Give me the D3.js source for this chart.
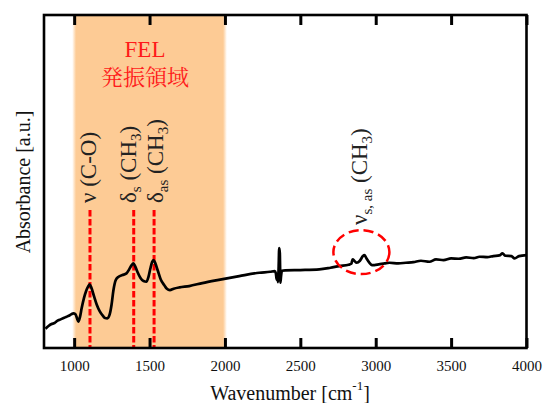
<!DOCTYPE html>
<html><head><meta charset="utf-8"><script src="https://cdn.jsdelivr.net/npm/d3@7"></script></head>
<body style="margin:0">
<script>
// IR spectrum (absorbance in arbitrary units)
const wavenumber = [
  810, 830, 850, 870, 890, 910, 930, 950, 965, 980, 995, 1008, 1020, 1028, 1038,
  1050, 1065, 1080, 1093, 1103, 1115, 1130, 1150, 1170, 1190, 1205, 1220, 1235,
  1248, 1260, 1276, 1295, 1320, 1347, 1365, 1380, 1393, 1405, 1420, 1440, 1460,
  1479, 1492, 1505, 1517, 1526, 1538, 1555, 1575, 1597, 1615, 1635, 1660, 1700,
  1763, 1850, 1950, 2095, 2228, 2300, 2330, 2338, 2343, 2348, 2352, 2356, 2360,
  2364, 2368, 2372, 2378, 2400, 2500, 2626, 2700, 2759, 2820, 2838, 2847, 2858,
  2874, 2895, 2915, 2925, 2940, 2960, 2975, 2991, 3020, 3060, 3091, 3150, 3200,
  3250, 3300, 3356, 3400, 3450, 3500, 3550, 3600, 3650, 3688, 3740, 3780, 3820,
  3841, 3860, 3900, 3921, 3950, 4000
];
const absorbance = [
  0.058, 0.066, 0.072, 0.075, 0.082, 0.086, 0.090, 0.094, 0.097, 0.101, 0.104, 0.102, 0.088, 0.079, 0.092,
  0.120, 0.150, 0.172, 0.185, 0.191, 0.180, 0.158, 0.130, 0.110, 0.097, 0.090, 0.089, 0.100,
  0.130, 0.172, 0.204, 0.214, 0.219, 0.224, 0.236, 0.248, 0.254, 0.245, 0.228, 0.210, 0.201,
  0.199, 0.212, 0.238, 0.258, 0.264, 0.255, 0.232, 0.205, 0.189, 0.178, 0.174, 0.178, 0.182,
  0.186, 0.195, 0.204, 0.216, 0.226, 0.229, 0.231, 0.224, 0.205, 0.222, 0.198, 0.240, 0.300,
  0.285, 0.196, 0.215, 0.232, 0.233, 0.234, 0.236, 0.241, 0.246, 0.250, 0.253, 0.266, 0.262,
  0.256, 0.262, 0.276, 0.279, 0.268, 0.255, 0.249, 0.249, 0.251, 0.254, 0.256, 0.254, 0.256,
  0.258, 0.262, 0.259, 0.266, 0.264, 0.269, 0.268, 0.272, 0.270, 0.274, 0.273, 0.276, 0.278,
  0.284, 0.277, 0.276, 0.269, 0.276, 0.279
];

const xTicks = [1000, 1500, 2000, 2500, 3000, 3500, 4000];
const felRange = [1000, 2000];
const felLabel = ["FEL", "発振領域"];
// marked bands: label parts alternate text / subscript
const bands = [
  { wn: 1105, parts: ["ν (C-O)"] },
  { wn: 1395, parts: ["δ", "s", " (CH", "3", ")"] },
  { wn: 1530, parts: ["δ", "as", " (CH", "3", ")"] }
];
const chBand = { wn: 2905, a: 0.288, parts: ["ν", "s, as", " (CH", "3", ")"] };

const romanFont = '"Liberation Serif"';
const minchoFont = '"Noto Serif CJK JP"';

const margin = { top: 15, right: 16.5, bottom: 55, left: 44 };
const _width = 543;
const _height = 403;
const width = _width - margin.left - margin.right;
const height = _height - margin.top - margin.bottom;

const root = d3.select("body").append("svg").attr("width", _width).attr("height", _height);
const svg = root.append("g").attr("transform", `translate(${margin.left},${margin.top})`);

const x = d3.scaleLinear().domain([800, 4000]).range([0, width]);
const y = d3.scaleLinear().domain([0, 1]).range([height, 0]);

// orange band with soft left/right edges
const grad = root
  .append("defs")
  .append("linearGradient")
  .attr("id", "band")
  .attr("x1", "0%")
  .attr("x2", "100%");
[[0, 0], [0.025, 1], [0.975, 1], [1, 0]].forEach(([o, a]) => {
  grad.append("stop").attr("offset", o).attr("stop-color", "#fdcb95").attr("stop-opacity", a);
});

svg
  .append("rect")
  .attr("x", x(felRange[0]) - 2)
  .attr("y", 0)
  .attr("width", x(felRange[1]) - x(felRange[0]) + 4)
  .attr("height", height)
  .attr("fill", "url(#band)");

svg
  .selectAll(".fel")
  .data(felLabel)
  .enter()
  .append("text")
  .attr("class", "fel")
  .attr("x", x(1470))
  .attr("y", (d, i) => 42 + i * 28)
  .attr("text-anchor", "middle")
  .attr("font-size", (d, i) => (i ? 22 : 23))
  .attr("fill", "#ff1a1a")
  .style("font-family", (d, i) => (i ? minchoFont : romanFont))
  .text(d => d);

// red dashed marker lines
svg
  .selectAll(".marker")
  .data(bands)
  .enter()
  .append("line")
  .attr("class", "marker")
  .attr("x1", d => x(d.wn))
  .attr("x2", d => x(d.wn))
  .attr("y1", 195)
  .attr("y2", height)
  .attr("stroke", "#ff0000")
  .attr("stroke-width", 3)
  .attr("stroke-dasharray", "6.5,2.5");

// spectrum
const spectrum = wavenumber.map((d, i) => ({ x: d, y: absorbance[i] }));
const line = d3
  .line()
  .x(d => x(d.x))
  .y(d => y(d.y))
  .curve(d3.curveMonotoneX);

svg
  .append("path")
  .datum(spectrum)
  .attr("d", line)
  .attr("fill", "none")
  .attr("stroke", "#000")
  .attr("stroke-width", 2.7)
  .attr("stroke-linejoin", "round");

// rotated labels with subscripts
const addLabel = (px, py, parts) => {
  const t = svg
    .append("text")
    .attr("transform", `translate(${px},${py}) rotate(-90)`)
    .style("font-family", romanFont)
    .attr("font-size", 23)
    .attr("fill", "#222");
  parts.forEach((p, i) => {
    const sub = i % 2 === 1;
    t.append("tspan")
      .attr("font-size", sub ? 15 : null)
      .attr("dy", sub ? 5 : i > 0 ? -5 : 0)
      .text(p);
  });
};

bands.forEach((d, i) => {
  const bx = [96, 136, 163][i] - margin.left;
  addLabel(bx, 203 - margin.top, d.parts);
});
addLabel(367 - margin.left, 225 - margin.top, chBand.parts);

// dashed circle around CH3 stretch
svg
  .append("ellipse")
  .attr("cx", x(chBand.wn))
  .attr("cy", y(chBand.a))
  .attr("rx", 28)
  .attr("ry", 22)
  .attr("fill", "none")
  .attr("stroke", "#ff0000")
  .attr("stroke-width", 2.5)
  .attr("stroke-dasharray", "10,5");

// frame with inward ticks on top and bottom
svg
  .append("rect")
  .attr("width", width)
  .attr("height", height)
  .attr("fill", "none")
  .attr("stroke", "#000")
  .attr("stroke-width", 2.6);

const bottomAxis = svg
  .append("g")
  .attr("transform", `translate(0, ${height})`)
  .call(d3.axisBottom(x).tickValues(xTicks).tickSize(-10).tickPadding(12).tickFormat(d3.format("d")));
bottomAxis.attr("font-family", null).attr("font-size", null);
bottomAxis.select(".domain").remove();
bottomAxis.selectAll("line").attr("stroke-width", 3);
bottomAxis
  .selectAll("text")
  .style("font-family", romanFont)
  .attr("font-size", 15)
  .attr("fill", "#111");

const topAxis = svg
  .append("g")
  .call(d3.axisTop(x).tickValues(xTicks).tickSize(-10).tickFormat(""));
topAxis.select(".domain").remove();
topAxis.selectAll("line").attr("stroke-width", 3);

// axis titles
const xTitle = svg
  .append("text")
  .attr("x", 290 - margin.left)
  .attr("y", 400 - margin.top)
  .attr("text-anchor", "middle")
  .style("font-family", romanFont)
  .attr("font-size", 20)
  .attr("fill", "#111");
xTitle.append("tspan").text("Wavenumber [cm");
xTitle.append("tspan").attr("font-size", 13).attr("dy", -10).text("-1");
xTitle.append("tspan").attr("dy", 10).text("]");

svg
  .append("text")
  .attr("transform", `translate(${30 - margin.left},${182 - margin.top}) rotate(-90)`)
  .attr("text-anchor", "middle")
  .style("font-family", romanFont)
  .attr("font-size", 20)
  .attr("fill", "#111")
  .text("Absorbance [a.u.]");
</script>
</body>
</html>
